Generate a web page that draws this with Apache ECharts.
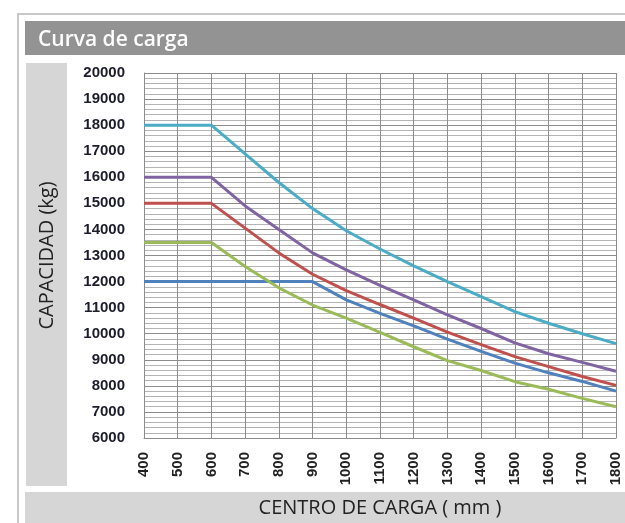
<!DOCTYPE html>
<html>
<head>
<meta charset="utf-8">
<script src="https://cdn.jsdelivr.net/npm/echarts@6/dist/echarts.min.js"></script>
<style>
  html, body { margin: 0; padding: 0; background: #fff; }
  #main { width: 625px; height: 523px; }
</style>
</head>
<body>
<div id="main"></div>
<script>
// centro de carga (mm)
const centros = [400, 500, 600, 700, 800, 900, 1000, 1100, 1200, 1300, 1400, 1500, 1600, 1700, 1800]

// capacidad (kg) por curva
const curvaCian = [18000, 18000, 18000, 16900, 15800, 14800, 13950, 13250, 12600, 12000, 11420, 10850, 10400, 10000, 9620]
const curvaMorada = [16000, 16000, 16000, 14900, 14000, 13100, 12450, 11850, 11300, 10720, 10200, 9650, 9230, 8900, 8560]
const curvaRoja = [15000, 15000, 15000, 14050, 13100, 12280, 11650, 11120, 10600, 10060, 9580, 9120, 8740, 8360, 8020]
const curvaAzul = [12000, 12000, 12000, 12000, 12000, 12000, 11300, 10780, 10300, 9790, 9320, 8870, 8500, 8170, 7800]
const curvaVerde = [13500, 13500, 13500, 12580, 11760, 11100, 10600, 10050, 9500, 8970, 8590, 8160, 7870, 7520, 7200]

const colores = ['#4BACC6', '#8064A2', '#C0504D', '#4F81BD', '#9BBB59']

const pares = arr => centros.map((c, i) => [c, arr[i]])

const linea = (nombre, datos, color) => ({
  name: nombre,
  type: 'line',
  data: pares(datos),
  symbol: 'none',
  lineStyle: { color: color, width: 3 },
  z: 3
})

const myChart = echarts.init(document.getElementById('main'), null, { renderer: 'canvas' })

const option = {
  animation: false,
  title: {
    text: 'Curva de carga',
    left: 33,
    top: 25,
    textStyle: { color: '#fff', fontSize: 21, fontWeight: 600, fontFamily: 'Open Sans' }
  },
  // marco, banda de título y bandas grises de los ejes
  graphic: [
    { type: 'rect', shape: { x: 18, y: 14, width: 640, height: 540 }, style: { fill: '#fff', stroke: '#c8c8c8', lineWidth: 2 }, z: -10 },
    { type: 'rect', shape: { x: 25, y: 21, width: 610, height: 34 }, style: { fill: '#939393' }, z: -9 },
    { type: 'rect', shape: { x: 26, y: 63, width: 41, height: 423 }, style: { fill: '#d6d6d6' }, z: -9 },
    { type: 'rect', shape: { x: 25, y: 492, width: 610, height: 40 }, style: { fill: '#d6d6d6' }, z: -9 }
  ],
  grid: { left: 144, right: 9, top: 73, bottom: 85, outerBoundsMode: 'none', containLabel: false },
  xAxis: {
    type: 'value',
    min: 400,
    max: 1800,
    interval: 100,
    name: 'CENTRO DE CARGA ( mm )',
    nameLocation: 'middle',
    nameGap: 60,
    nameTextStyle: { color: '#222', fontSize: 20, fontFamily: 'Open Sans' },
    axisLine: { lineStyle: { color: '#8c8c8c' } },
    axisTick: { show: false },
    axisLabel: {
      rotate: 90,
      margin: 14,
      color: '#222',
      fontSize: 15,
      fontWeight: 'bold',
      fontFamily: 'Liberation Sans',
      formatter: v => String(v)
    },
    splitLine: { show: true, lineStyle: { color: '#8c8c8c', width: 1 } }
  },
  yAxis: {
    type: 'value',
    min: 6000,
    max: 20000,
    interval: 1000,
    name: 'CAPACIDAD (kg)',
    nameLocation: 'middle',
    nameRotate: 90,
    nameGap: 87,
    nameTextStyle: { color: '#222', fontSize: 20, fontFamily: 'Open Sans' },
    axisLine: { show: true, lineStyle: { color: '#8c8c8c' } },
    axisTick: { show: false },
    axisLabel: {
      margin: 19,
      color: '#1c1c2c',
      fontSize: 15,
      fontWeight: 'bold',
      fontFamily: 'Liberation Sans',
      formatter: v => String(v)
    },
    splitLine: { show: true, lineStyle: { color: '#8c8c8c', width: 1 } },
    minorTick: { show: false, splitNumber: 5 },
    minorSplitLine: { show: true, lineStyle: { color: '#b4b4b4', width: 1 } }
  },
  series: [
    linea('cian', curvaCian, colores[0]),
    linea('morada', curvaMorada, colores[1]),
    linea('roja', curvaRoja, colores[2]),
    linea('azul', curvaAzul, colores[3]),
    linea('verde', curvaVerde, colores[4])
  ]
}
myChart.setOption(option)
</script>
</body>
</html>
